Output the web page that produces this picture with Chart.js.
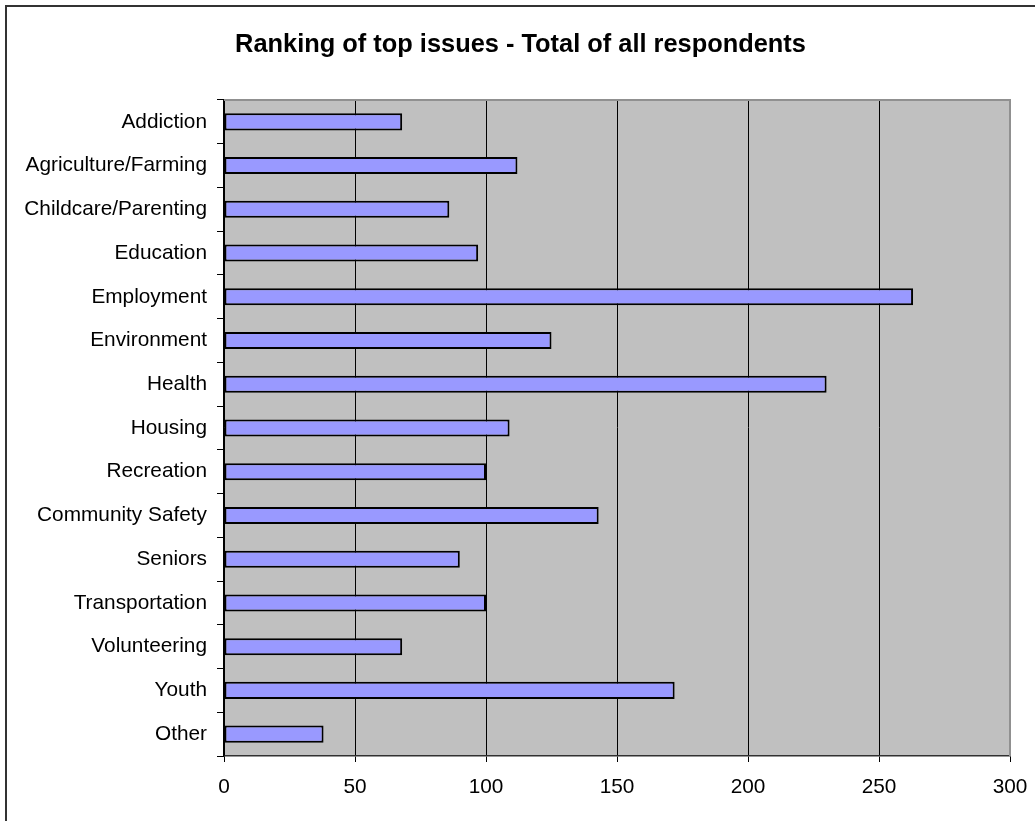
<!DOCTYPE html>
<html lang="en">
<head>
  <meta charset="UTF-8">
  <title>Ranking of top issues</title>
  <script src="https://cdn.jsdelivr.net/npm/chart.js"></script>
  <style>
    body {
      margin: 0;
      background: #ffffff;
      overflow: hidden;
    }

    .frame {
      position: absolute;
      left: 5px;
      top: 5px;
      width: 1100px;
      height: 900px;
      border-left: 2px solid #333333;
      border-top: 2px solid #333333;
    }

    #issuesChart {
      position: absolute;
      left: 0;
      top: 0;
    }
  </style>
</head>
<body>

  <div class="frame"></div>
  <canvas id="issuesChart" width="1035" height="821"></canvas>

  <script>
    const FONT = "'Liberation Sans', Arial, sans-serif";

    const categories = [
      'Addiction', 'Agriculture/Farming', 'Childcare/Parenting', 'Education',
      'Employment', 'Environment', 'Health', 'Housing', 'Recreation',
      'Community Safety', 'Seniors', 'Transportation', 'Volunteering',
      'Youth', 'Other'
    ];
    const totals = [68, 112, 86, 97, 263, 125, 230, 109, 100, 143, 90, 100, 68, 172, 38];
    const xTicks = [0, 50, 100, 150, 200, 250, 300];

    // grey plot background plus the lighter top/right edge
    const plotArea = {
      id: 'plotArea',
      afterLayout(chart) {
        // centre the title over the frame rather than the canvas
        const t = chart.titleBlock;
        t.left = 31;
        t.width = t.right - t.left;
      },
      beforeDraw(chart) {
        const { ctx, chartArea: a } = chart;
        ctx.save();
        ctx.fillStyle = '#c0c0c0';
        ctx.fillRect(a.left, a.top, a.right - a.left, a.bottom - a.top);
        ctx.restore();
      },
      afterDraw(chart) {
        const { ctx, chartArea: a } = chart;
        ctx.save();
        ctx.strokeStyle = '#909090';
        ctx.lineWidth = 2;
        ctx.beginPath();
        ctx.moveTo(a.left, a.top);
        ctx.lineTo(a.right, a.top);
        ctx.lineTo(a.right, a.bottom);
        ctx.stroke();
        ctx.restore();
      }
    };

    new Chart(document.getElementById('issuesChart'), {
      type: 'bar',
      data: {
        labels: categories,
        datasets: [{
          label: 'Total',
          data: totals,
          backgroundColor: '#9999ff',
          borderColor: '#000000',
          borderWidth: 2,
          borderSkipped: false,
          barPercentage: 0.39,
          categoryPercentage: 1
        }]
      },
      options: {
        indexAxis: 'y',
        responsive: false,
        animation: false,
        layout: { padding: { top: 0, right: 25, bottom: 0, left: 0 } },
        plugins: {
          legend: { display: false },
          tooltip: { enabled: false },
          title: {
            display: true,
            text: 'Ranking of top issues - Total of all respondents',
            color: '#000000',
            font: { family: FONT, size: 25.4, weight: 'bold' },
            padding: { top: 30, bottom: 39.5 }
          }
        },
        scales: {
          x: {
            min: 0,
            max: 300,
            afterBuildTicks: scale => {
              scale.ticks = xTicks.map(v => ({ value: v }));
            },
            afterFit: scale => {
              scale.height = 65;
              scale.paddingLeft = 0;
              scale.paddingRight = 0;
            },
            grid: {
              color: c => (c.tick && c.tick.value === 300 ? 'rgba(0,0,0,0)' : '#000000'),
              tickColor: '#000000',
              lineWidth: 1,
              tickLength: 6
            },
            border: { color: '#303030', width: 1.5 },
            ticks: {
              color: '#000000',
              font: { family: FONT, size: 20.8 },
              padding: 13,
              maxRotation: 0
            }
          },
          y: {
            afterFit: scale => { scale.width = 224; },
            grid: {
              drawOnChartArea: false,
              color: '#000000',
              tickLength: 7
            },
            border: { color: '#000000', width: 1.5 },
            ticks: {
              color: '#000000',
              font: { family: FONT, size: 20.8 },
              padding: 10
            }
          }
        }
      },
      plugins: [plotArea]
    });
  </script>

</body>
</html>
